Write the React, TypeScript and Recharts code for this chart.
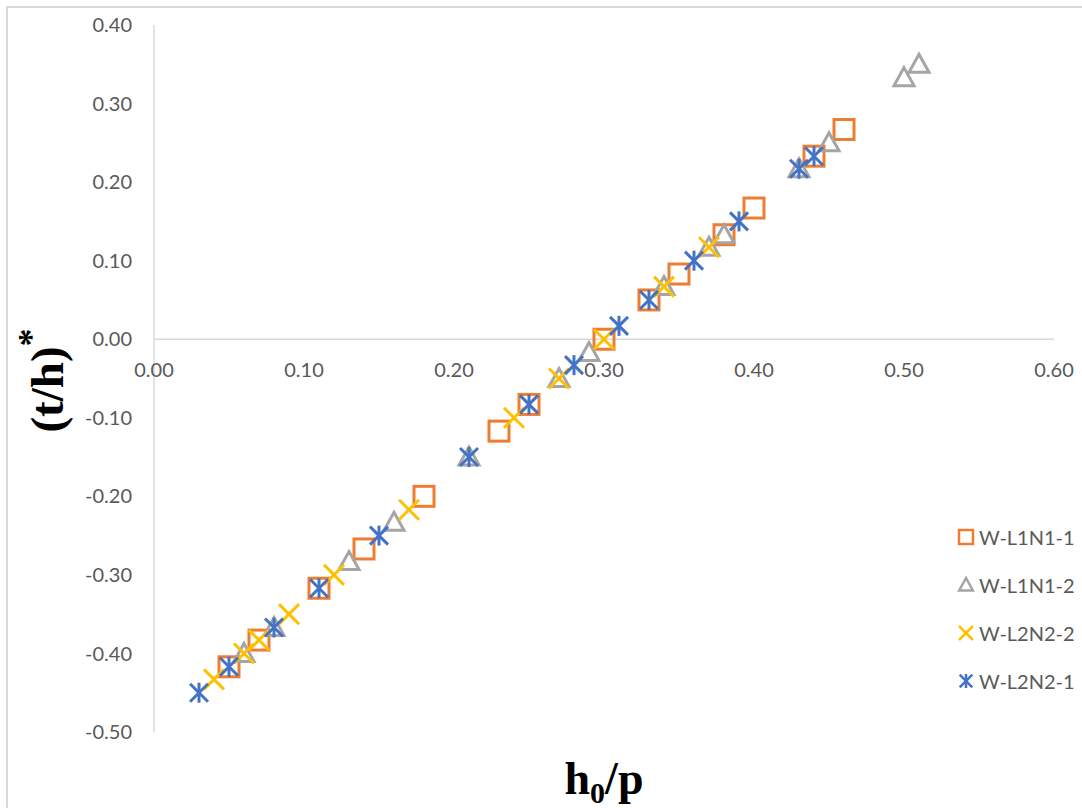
import React from "react";
import {
  ScatterChart,
  Scatter,
  XAxis,
  YAxis,
  Legend,
  ReferenceLine,
  ReferenceDot,
} from "recharts";

// W-L1N1-1 (squares)
const sq1X = [0.46, 0.44, 0.40, 0.38, 0.35, 0.33, 0.30, 0.25, 0.23, 0.18, 0.14, 0.11, 0.07, 0.05];
const sq1Y = [0.267, 0.233, 0.167, 0.133, 0.083, 0.05, 0.0, -0.083, -0.117, -0.2, -0.267, -0.317, -0.383, -0.417];

// W-L1N1-2 (triangles)
const tri2X = [0.51, 0.50, 0.45, 0.43, 0.38, 0.37, 0.34, 0.29, 0.27, 0.21, 0.16, 0.13, 0.08, 0.06];
const tri2Y = [0.35, 0.333, 0.25, 0.217, 0.133, 0.117, 0.067, -0.017, -0.05, -0.15, -0.233, -0.283, -0.367, -0.4];

// W-L2N2-2 (x)
const x22X = [0.37, 0.34, 0.30, 0.27, 0.24, 0.17, 0.12, 0.09, 0.07, 0.06, 0.04];
const x22Y = [0.117, 0.067, 0.0, -0.05, -0.1, -0.217, -0.3, -0.35, -0.383, -0.4, -0.433];

// W-L2N2-1 (asterisks)
const ast21X = [0.44, 0.43, 0.39, 0.36, 0.33, 0.31, 0.28, 0.25, 0.21, 0.15, 0.11, 0.08, 0.05, 0.03];
const ast21Y = [0.233, 0.217, 0.15, 0.1, 0.05, 0.017, -0.033, -0.083, -0.15, -0.25, -0.317, -0.367, -0.417, -0.45];

const xTicks = [0, 0.1, 0.2, 0.3, 0.4, 0.5, 0.6];
const yTicks = [-0.5, -0.4, -0.3, -0.2, -0.1, 0, 0.1, 0.2, 0.3, 0.4];

const ORANGE = "#ED7D31";
const GRAY = "#A5A5A5";
const YELLOW = "#FFC000";
const BLUE = "#4472C4";
const TXT = "#595959";
const FONT = "Lato, 'Open Sans', sans-serif";
const SERIF = "'Liberation Serif', 'Times New Roman', serif";

const toPoints = (xs: number[], ys: number[]) => xs.map((x, i) => ({ x, y: ys[i] }));

const squareMark = (cx: number, cy: number, s: number, w: number) => (
  <rect x={cx - s} y={cy - s} width={s * 2} height={s * 2} fill="none" stroke={ORANGE} strokeWidth={w} />
);
const triangleMark = (cx: number, cy: number, s: number, w: number) => (
  <polygon
    points={`${cx},${cy - s} ${cx + s},${cy + s * 0.8} ${cx - s},${cy + s * 0.8}`}
    fill="none"
    stroke={GRAY}
    strokeWidth={w}
  />
);
const crossMark = (cx: number, cy: number, s: number, w: number) => (
  <g stroke={YELLOW} strokeWidth={w}>
    <line x1={cx - s} y1={cy - s} x2={cx + s} y2={cy + s} />
    <line x1={cx - s} y1={cy + s} x2={cx + s} y2={cy - s} />
  </g>
);
const starMark = (cx: number, cy: number, s: number, w: number) => (
  <g stroke={BLUE} strokeWidth={w}>
    <line x1={cx - s * 0.9} y1={cy - s * 0.9} x2={cx + s * 0.9} y2={cy + s * 0.9} />
    <line x1={cx - s * 0.9} y1={cy + s * 0.9} x2={cx + s * 0.9} y2={cy - s * 0.9} />
    <line x1={cx} y1={cy - s} x2={cx} y2={cy + s} />
  </g>
);

const series = [
  { name: "W-L1N1-1", data: toPoints(sq1X, sq1Y), mark: squareMark },
  { name: "W-L1N1-2", data: toPoints(tri2X, tri2Y), mark: triangleMark },
  { name: "W-L2N2-2", data: toPoints(x22X, x22Y), mark: crossMark },
  { name: "W-L2N2-1", data: toPoints(ast21X, ast21Y), mark: starMark },
];

const LegendBox = () => (
  <div style={{ fontFamily: FONT, fontSize: 20, color: TXT }}>
    {series.map((s) => (
      <div key={s.name} style={{ display: "flex", alignItems: "center", height: 48 }}>
        <svg width={18} height={18}>
          {s.mark(9, 9, 7, 2.5)}
        </svg>
        <span style={{ marginLeft: 4, whiteSpace: "nowrap" }}>{s.name}</span>
      </div>
    ))}
  </div>
);

const YTitle = (props: any) => {
  const vb = props.viewBox;
  const cy = vb.y + vb.height / 2 + 2;
  return (
    <text
      transform={`translate(47, ${cy}) rotate(-90)`}
      textAnchor="middle"
      dominantBaseline="central"
      fontFamily={SERIF}
      fontWeight="bold"
      fontSize={47}
      fill="#000"
    >
      (t/h)<tspan dy={-16} fontSize={36}>*</tspan>
    </text>
  );
};

export default function App() {
  return (
    <div style={{ position: "absolute", left: 0, top: 0, width: 1082, height: 808, overflow: "hidden", background: "#fff" }}>
      <div
        style={{
          position: "absolute",
          left: 6,
          top: 6,
          width: 1200,
          height: 900,
          border: "2px solid #D9D9D9",
        }}
      />
      <div style={{ position: "absolute", left: 0, top: 0 }}>
        <ScatterChart width={1082} height={808} margin={{ top: 25, right: 28, bottom: 76, left: 74 }}>
          <XAxis type="number" dataKey="x" domain={[0, 0.6]} ticks={xTicks} hide />
          <YAxis
            type="number"
            dataKey="y"
            domain={[-0.5, 0.4]}
            ticks={yTicks}
            width={80}
            interval={0}
            tickFormatter={(v: number) => v.toFixed(2)}
            tickLine={false}
            tickSize={0}
            tickMargin={22}
            axisLine={{ stroke: "#D9D9D9", strokeWidth: 1.5 }}
            tick={{ fill: TXT, fontSize: 20, fontFamily: FONT }}
            label={<YTitle />}
          />
          <ReferenceLine y={0} stroke="#D9D9D9" strokeWidth={1.5} />
          {xTicks.map((v) => (
            <ReferenceDot
              key={v}
              x={v}
              y={0}
              r={0}
              fill="none"
              stroke="none"
              ifOverflow="visible"
              label={{ value: v.toFixed(2), position: "bottom", offset: 24, fill: TXT, fontSize: 20, fontFamily: FONT }}
            />
          ))}
          {series.map((s) => (
            <Scatter
              key={s.name}
              name={s.name}
              data={s.data}
              isAnimationActive={false}
              shape={(p: any) => s.mark(p.cx, p.cy, 10, 3)}
            />
          ))}
          <Legend
            layout="vertical"
            align="center"
            verticalAlign="middle"
            wrapperStyle={{ left: 957, top: 513, width: 125 }}
            content={<LegendBox />}
          />
          <text x={604} y={794} textAnchor="middle" fontFamily={SERIF} fontWeight="bold" fontSize={46} fill="#000">
            h<tspan fontSize={30} dy={9}>0</tspan>
            <tspan dy={-9}>/p</tspan>
          </text>
        </ScatterChart>
      </div>
    </div>
  );
}
